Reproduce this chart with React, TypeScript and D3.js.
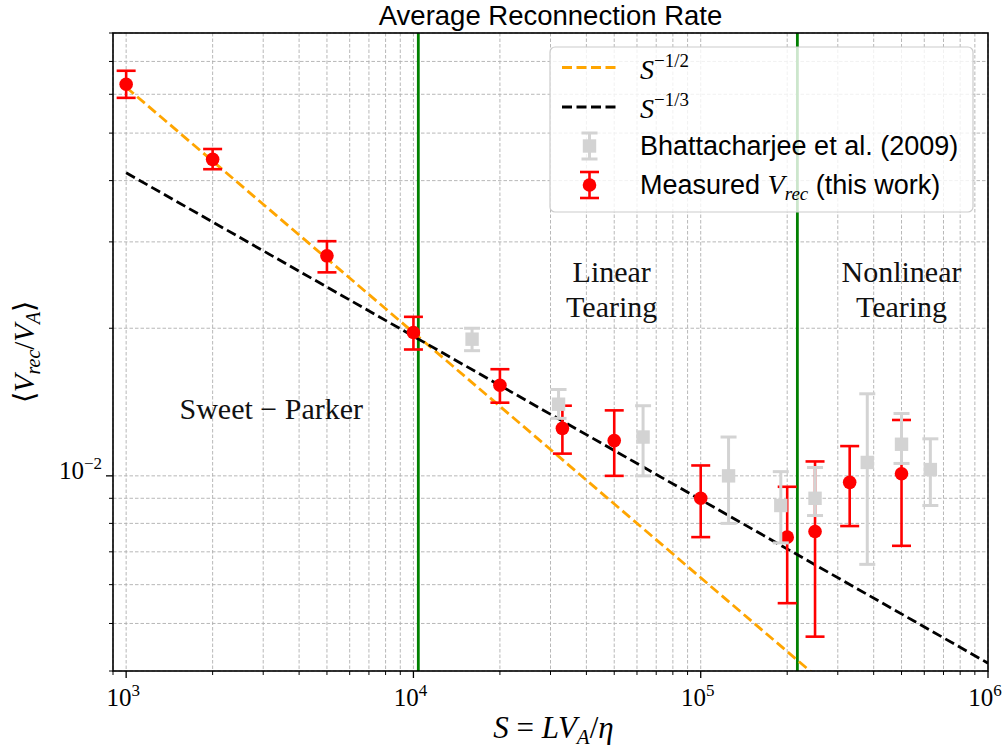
import React from "react";
import * as d3 from "d3";

// ---------- data ----------
const measuredS = [1e3, 2e3, 5e3, 1e4, 2e4, 3.3e4, 5e4, 1e5, 2e5, 2.5e5, 3.3e5, 5e5];
const measuredV = [0.0629, 0.0442, 0.0281, 0.0196, 0.0153, 0.0125, 0.0118, 0.009, 0.0075, 0.0077, 0.0097, 0.0101];
const measuredLo = [0.059, 0.0422, 0.026, 0.0181, 0.0141, 0.0111, 0.01, 0.0075, 0.0055, 0.0047, 0.0079, 0.0072];
const measuredHi = [0.067, 0.0464, 0.0301, 0.0211, 0.0165, 0.0139, 0.0136, 0.0105, 0.0095, 0.0107, 0.0115, 0.013];

const bhatS = [1.6e4, 3.2e4, 6.3e4, 1.25e5, 1.9e5, 2.5e5, 3.8e5, 5e5, 6.3e5];
const bhatV = [0.019, 0.014, 0.012, 0.01, 0.0087, 0.009, 0.01065, 0.0116, 0.0103];
const bhatLo = [0.018, 0.0131, 0.01, 0.008, 0.0073, 0.0083, 0.0066, 0.0106, 0.0087];
const bhatHi = [0.02, 0.015, 0.0139, 0.012, 0.0102, 0.0104, 0.0147, 0.0134, 0.0119];

// reference power laws: endpoints [S, V]
const halfLine: [number, number][] = [[1e3, 0.062], [1e6, 0.00196]];
const thirdLine: [number, number][] = [[1e3, 0.0415], [1e6, 0.00415]];

const transitionS = [1.04e4, 2.17e5];

const xMajor = [1e3, 1e4, 1e5, 1e6];
const xMajorExp = ["3", "4", "5", "6"];
const yMajor = [1e-2];
const yMajorExp = ["\u22122"];

const regionLabels = [
  { s: 3.2e3, v: 0.01303, lines: ["Sweet \u2212 Parker"] },
  { s: 4.9e4, v: 0.0249, lines: ["Linear", "Tearing"] },
  { s: 5.0e5, v: 0.0249, lines: ["Nonlinear", "Tearing"] },
];

// ---------- layout ----------
const W = 1008;
const H = 751;
const L = 113;
const R = 988;
const T = 33;
const B = 671;

const SERIF = "'Liberation Serif', 'Times New Roman', serif";
const SANS = "'Liberation Sans', Arial, Helvetica, sans-serif";

export default function App() {
  const x = d3.scaleLog().domain([900, 1e6]).range([L, R]);
  const y = d3.scaleLog().domain([0.004, 0.08]).range([B, T]);

  const xMinor: number[] = [];
  for (let e = 2; e <= 5; e++) {
    for (let m = 2; m <= 9; m++) {
      const v = m * Math.pow(10, e);
      if (v >= 900 && v <= 1e6) xMinor.push(v);
    }
  }
  const yMinor: number[] = [];
  for (let e = -3; e <= -2; e++) {
    for (let m = 2; m <= 9; m++) {
      const v = m * Math.pow(10, e);
      if (v >= 0.004 && v <= 0.08 + 1e-9) yMinor.push(v);
    }
  }

  const line = d3
    .line<[number, number]>()
    .x((d) => x(d[0]))
    .y((d) => y(d[1]));

  const gridColor = "#b0b0b0";
  const grid = (
    <g stroke={gridColor} strokeWidth={0.9} strokeDasharray="3.5,2" fill="none">
      {[...xMinor, ...xMajor].map((v, i) => (
        <line key={"gx" + i} x1={x(v)} x2={x(v)} y1={T} y2={B} />
      ))}
      {[...yMinor, ...yMajor].map((v, i) => (
        <line key={"gy" + i} x1={L} x2={R} y1={y(v)} y2={y(v)} />
      ))}
    </g>
  );

  const red = "#ff0000";
  const gray = "#d3d3d3";

  const redBars = measuredS.map((s, i) => {
    const cx = x(s);
    return (
      <g key={"r" + i}>
        <line x1={cx} x2={cx} y1={y(measuredLo[i])} y2={y(measuredHi[i])} stroke={red} strokeWidth={2.6} />
        <line x1={cx - 9.5} x2={cx + 9.5} y1={y(measuredLo[i])} y2={y(measuredLo[i])} stroke={red} strokeWidth={2.6} />
        <line x1={cx - 9.5} x2={cx + 9.5} y1={y(measuredHi[i])} y2={y(measuredHi[i])} stroke={red} strokeWidth={2.6} />
        <circle cx={cx} cy={y(measuredV[i])} r={6.8} fill={red} />
      </g>
    );
  });

  const grayBars = bhatS.map((s, i) => {
    const cx = x(s);
    return (
      <g key={"g" + i}>
        <line x1={cx} x2={cx} y1={y(bhatLo[i])} y2={y(bhatHi[i])} stroke={gray} strokeWidth={3} />
        <line x1={cx - 8} x2={cx + 8} y1={y(bhatLo[i])} y2={y(bhatLo[i])} stroke={gray} strokeWidth={3} />
        <line x1={cx - 8} x2={cx + 8} y1={y(bhatHi[i])} y2={y(bhatHi[i])} stroke={gray} strokeWidth={3} />
        <rect x={cx - 6.7} y={y(bhatV[i]) - 6.7} width={13.4} height={13.4} fill={gray} />
      </g>
    );
  });

  // legend geometry
  const lgX = 550;
  const lgY = 47;
  const lgW = 423;
  const lgH = 165;
  const rows = [67.5, 107, 146, 185];
  const hx0 = 562;
  const hx1 = 617;
  const hxc = 589.5;
  const tx = 640;

  return (
    <svg
      width={W}
      height={H}
      style={{ position: "absolute", left: 0, top: 0, background: "#fff" }}
      xmlns="http://www.w3.org/2000/svg"
    >
      <defs>
        <clipPath id="plotClip">
          <rect x={L} y={T} width={R - L} height={B - T} />
        </clipPath>
      </defs>
      <rect x={0} y={0} width={W} height={H} fill="#fff" />
      {grid}

      <g clipPath="url(#plotClip)">
        {transitionS.map((s, i) => (
          <line key={"tr" + i} x1={x(s)} x2={x(s)} y1={T} y2={B} stroke="#008000" strokeWidth={2.8} />
        ))}
        <path d={line(halfLine) || ""} stroke="#ffa500" strokeWidth={2.8} strokeDasharray="10,4.5" fill="none" />
        <path d={line(thirdLine) || ""} stroke="#000" strokeWidth={2.8} strokeDasharray="10,4.5" fill="none" />
        {redBars}
        {grayBars}
      </g>

      {/* region labels */}
      {regionLabels.map((r, i) => (
        <text
          key={"rl" + i}
          x={x(r.s)}
          y={y(r.v)}
          fontFamily={SERIF}
          fontSize={30}
          textAnchor="middle"
          fill="#111"
        >
          {r.lines.map((t, j) => (
            <tspan key={j} x={x(r.s)} dy={j === 0 ? 0 : 35}>
              {t}
            </tspan>
          ))}
        </text>
      ))}

      {/* spines */}
      <rect x={L} y={T} width={R - L} height={B - T} fill="none" stroke="#000" strokeWidth={1.6} />

      {/* ticks */}
      <g stroke="#000" strokeWidth={1.3}>
        {xMajor.map((v, i) => (
          <line key={"xt" + i} x1={x(v)} x2={x(v)} y1={B} y2={B + 7} />
        ))}
        {xMinor.map((v, i) => (
          <line key={"xm" + i} x1={x(v)} x2={x(v)} y1={B} y2={B + 4} strokeWidth={1} />
        ))}
        {yMajor.map((v, i) => (
          <line key={"yt" + i} x1={L} x2={L - 7} y1={y(v)} y2={y(v)} />
        ))}
        {yMinor.map((v, i) => (
          <line key={"ym" + i} x1={L} x2={L - 4} y1={y(v)} y2={y(v)} strokeWidth={1} />
        ))}
      </g>

      {/* x tick labels */}
      {xMajor.map((v, i) => (
        <text key={"xl" + i} x={x(v) - 3} y={B + 35} fontFamily={SERIF} fontSize={25} textAnchor="middle" fill="#000">
          10
          <tspan fontSize={17} dy={-10}>
            {xMajorExp[i]}
          </tspan>
        </text>
      ))}
      {/* y tick labels */}
      {yMajor.map((v, i) => (
        <text key={"yl" + i} x={L - 11} y={y(v) + 3} fontFamily={SERIF} fontSize={25} textAnchor="end" fill="#000">
          10
          <tspan fontSize={17} dy={-10}>
            {yMajorExp[i]}
          </tspan>
        </text>
      ))}

      {/* axis labels */}
      <text x={(L + R) / 2 + 3} y={738} fontFamily={SERIF} fontSize={31} textAnchor="middle" fill="#000">
        <tspan fontStyle="italic">S</tspan>
        <tspan> = </tspan>
        <tspan fontStyle="italic">LV</tspan>
        <tspan fontStyle="italic" fontSize={21} dy={6}>A</tspan>
        <tspan dy={-6}>/</tspan>
        <tspan fontStyle="italic">η</tspan>
      </text>
      <text
        transform={`translate(34, ${(T + B) / 2}) rotate(-90)`}
        fontFamily={SERIF}
        fontSize={29}
        textAnchor="middle"
        fill="#000"
      >
        <tspan>⟨</tspan>
        <tspan fontStyle="italic">V</tspan>
        <tspan fontStyle="italic" fontSize={20} dy={6}>rec</tspan>
        <tspan dy={-6}>/</tspan>
        <tspan fontStyle="italic">V</tspan>
        <tspan fontStyle="italic" fontSize={20} dy={6}>A</tspan>
        <tspan dy={-6}>⟩</tspan>
      </text>

      {/* title */}
      <text x={(L + R) / 2} y={25} fontFamily={SANS} fontSize={27.5} textAnchor="middle" fill="#000">
        Average Reconnection Rate
      </text>

      {/* legend */}
      <g>
        <rect
          x={lgX}
          y={lgY}
          width={lgW}
          height={lgH}
          rx={5}
          ry={5}
          fill="#fff"
          fillOpacity={0.8}
          stroke="#cccccc"
          strokeWidth={1.2}
        />
        <line x1={hx0} x2={hx1} y1={rows[0]} y2={rows[0]} stroke="#ffa500" strokeWidth={2.8} strokeDasharray="10,4.5" />
        <text x={tx} y={rows[0] + 11} fontFamily={SERIF} fontSize={28} fill="#000">
          <tspan fontStyle="italic">S</tspan>
          <tspan fontSize={19} dy={-12}>−1/2</tspan>
        </text>
        <line x1={hx0} x2={hx1} y1={rows[1]} y2={rows[1]} stroke="#000" strokeWidth={2.8} strokeDasharray="10,4.5" />
        <text x={tx} y={rows[1] + 11} fontFamily={SERIF} fontSize={28} fill="#000">
          <tspan fontStyle="italic">S</tspan>
          <tspan fontSize={19} dy={-12}>−1/3</tspan>
        </text>
        {/* gray handle */}
        <line x1={hxc} x2={hxc} y1={rows[2] - 13} y2={rows[2] + 13} stroke={gray} strokeWidth={3} />
        <line x1={hxc - 8} x2={hxc + 8} y1={rows[2] - 13} y2={rows[2] - 13} stroke={gray} strokeWidth={3} />
        <line x1={hxc - 8} x2={hxc + 8} y1={rows[2] + 13} y2={rows[2] + 13} stroke={gray} strokeWidth={3} />
        <rect x={hxc - 6.7} y={rows[2] - 6.7} width={13.4} height={13.4} fill={gray} />
        <text x={tx} y={rows[2] + 9} fontFamily={SANS} fontSize={27} fill="#000">
          Bhattacharjee et al. (2009)
        </text>
        {/* red handle */}
        <line x1={hxc} x2={hxc} y1={rows[3] - 13} y2={rows[3] + 13} stroke={red} strokeWidth={2.6} />
        <line x1={hxc - 9.5} x2={hxc + 9.5} y1={rows[3] - 13} y2={rows[3] - 13} stroke={red} strokeWidth={2.6} />
        <line x1={hxc - 9.5} x2={hxc + 9.5} y1={rows[3] + 13} y2={rows[3] + 13} stroke={red} strokeWidth={2.6} />
        <circle cx={hxc} cy={rows[3]} r={6.8} fill={red} />
        <text x={tx} y={rows[3] + 9} fontFamily={SANS} fontSize={27} fill="#000">
          <tspan>Measured </tspan>
          <tspan fontFamily={SERIF} fontStyle="italic" fontSize={28}>V</tspan>
          <tspan fontFamily={SERIF} fontStyle="italic" fontSize={19} dy={6}>rec</tspan>
          <tspan dy={-6}> (this work)</tspan>
        </text>
      </g>
    </svg>
  );
}
